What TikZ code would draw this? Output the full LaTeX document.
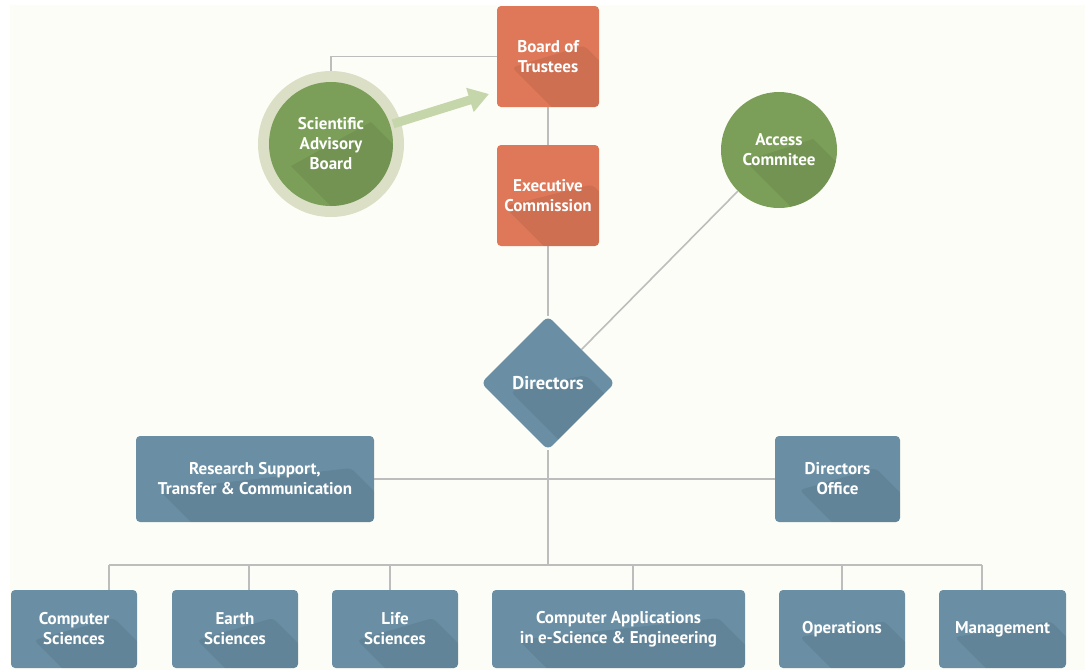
\documentclass[tikz,border=0pt]{standalone}
\usepackage{fontspec}
\setmainfont{PT Sans}
\usetikzlibrary{shapes.geometric,arrows.meta,calc,backgrounds}
\definecolor{bgc}{HTML}{FDFDF7}
\definecolor{orangec}{HTML}{DE7858}
\definecolor{greenc}{HTML}{7B9F58}
\definecolor{ringc}{HTML}{DADFC6}
\definecolor{arrowc}{HTML}{C6D6AB}
\definecolor{bluec}{HTML}{6A8FA4}
\definecolor{linec}{HTML}{BDBDBD}
\tikzset{
  lbl/.style={text=white,font=\fontsize{17}{20}\selectfont\bfseries,align=center},
  lshadow/.style 2 args={path picture={
    \fill[black,opacity=.07]
      ([shift={(-#1,#2)}]path picture bounding box.center) --
      ([shift={(#1,-#2)}]path picture bounding box.center) --
      ([shift={(#1+300,300-#2)}]path picture bounding box.center) --
      ([shift={(300-#1,300+#2)}]path picture bounding box.center) -- cycle;}},
  obox/.style={lbl,fill=orangec,rounded corners=4pt,inner sep=0pt,minimum width=102pt,minimum height=101pt},
  bbox/.style={lbl,fill=bluec,rounded corners=4pt,inner sep=0pt,minimum height=86pt},
  sbox/.style={lbl,fill=bluec,rounded corners=4pt,inner sep=0pt,minimum height=78pt},
  gcirc/.style={lbl,circle,fill=greenc,inner sep=0pt},
  dshape/.style={lbl,diamond,fill=bluec,minimum width=134pt,minimum height=134pt,inner sep=0pt,rounded corners=6pt,font=\fontsize{18.5}{20}\selectfont\bfseries},
  conn/.style={draw=linec,line width=1.6pt},
}
\begin{document}
\begin{tikzpicture}[x=1pt,y=-1pt]
\useasboundingbox (0,0) rectangle (1087,670);
\clip (0,0) rectangle (1087,670);

% nodes
\node[obox,lshadow={36}{11}] (bot) at (548,56.5) {Board of\\Trustees};
\node[obox,lshadow={44}{11}] (ec) at (548,195.5) {Executive\\Commission};
\node[circle,fill=ringc,minimum size=146pt,inner sep=0pt] (sabring) at (331,144) {};
\node[gcirc,minimum size=124pt,lshadow={40}{22}] (sab) at (331,144) {Scientific\\Advisory\\Board};
\node[gcirc,minimum size=116pt,lshadow={34}{11}] (acc) at (779,150) {Access\\Commitee};
\node[dshape,lshadow={38}{8}] (dir) at (548,383) {Directors};
\node[bbox,minimum width=238pt,lshadow={96}{11}] (rs) at (255,479) {Research Support,\\Transfer \& Communication};
\node[bbox,minimum width=125pt,lshadow={38}{11}] (do) at (837.5,479) {Directors\\Office};
\node[sbox,minimum width=126pt,lshadow={40}{11}] (cs) at (74,629) {Computer\\Sciences};
\node[sbox,minimum width=126pt,lshadow={38}{11}] (es) at (235,629) {Earth\\Sciences};
\node[sbox,minimum width=126pt,lshadow={38}{11}] (ls) at (395,629) {Life\\Sciences};
\node[sbox,minimum width=253pt,lshadow={100}{11}] (ca) at (618.5,629) {Computer Applications\\in e-Science \& Engineering};
\node[sbox,minimum width=126pt,lshadow={42}{8}] (op) at (842,629) {Operations};
\node[sbox,minimum width=127pt,lshadow={48}{8}] (mg) at (1002.5,629) {Management};

% bus coordinates
\coordinate (busL) at (109,565);
\coordinate (busR) at (982,565);
\coordinate (busM) at (548,565);
\coordinate (dES) at (249,565);
\coordinate (dLS) at (390,565);
\coordinate (dCA) at (633,565);
\coordinate (dOP) at (842,565);

\begin{scope}[on background layer]
\fill[white] (0,0) rectangle (1087,670);
\fill[bgc] (10,5) rectangle (1085,670);
\draw[conn] (sabring.north) |- (bot.west);
\draw[conn] (bot) -- (ec);
\draw[conn] (ec) -- (dir);
\draw[conn] (acc.south west) -- (dir.north east);
\draw[conn] (rs.east) -- (do.west);
\draw[conn] (dir.south) -- (busM);
\draw[conn] (busL) -- (busR);
\draw[conn] (busL) -- (busL |- cs.north);
\draw[conn] (dES) -- (dES |- es.north);
\draw[conn] (dLS) -- (dLS |- ls.north);
\draw[conn] (dCA) -- (dCA |- ca.north);
\draw[conn] (dOP) -- (dOP |- op.north);
\draw[conn] (busR) -- (busR |- mg.north);
\end{scope}

% arrow
\coordinate (arrE) at (489,94);
\draw[arrowc,line width=9pt,-{Triangle[length=20pt,width=24pt]}] ($(sab.center)!1.05!(sab.18)$) -- (arrE);
\end{tikzpicture}
\end{document}
